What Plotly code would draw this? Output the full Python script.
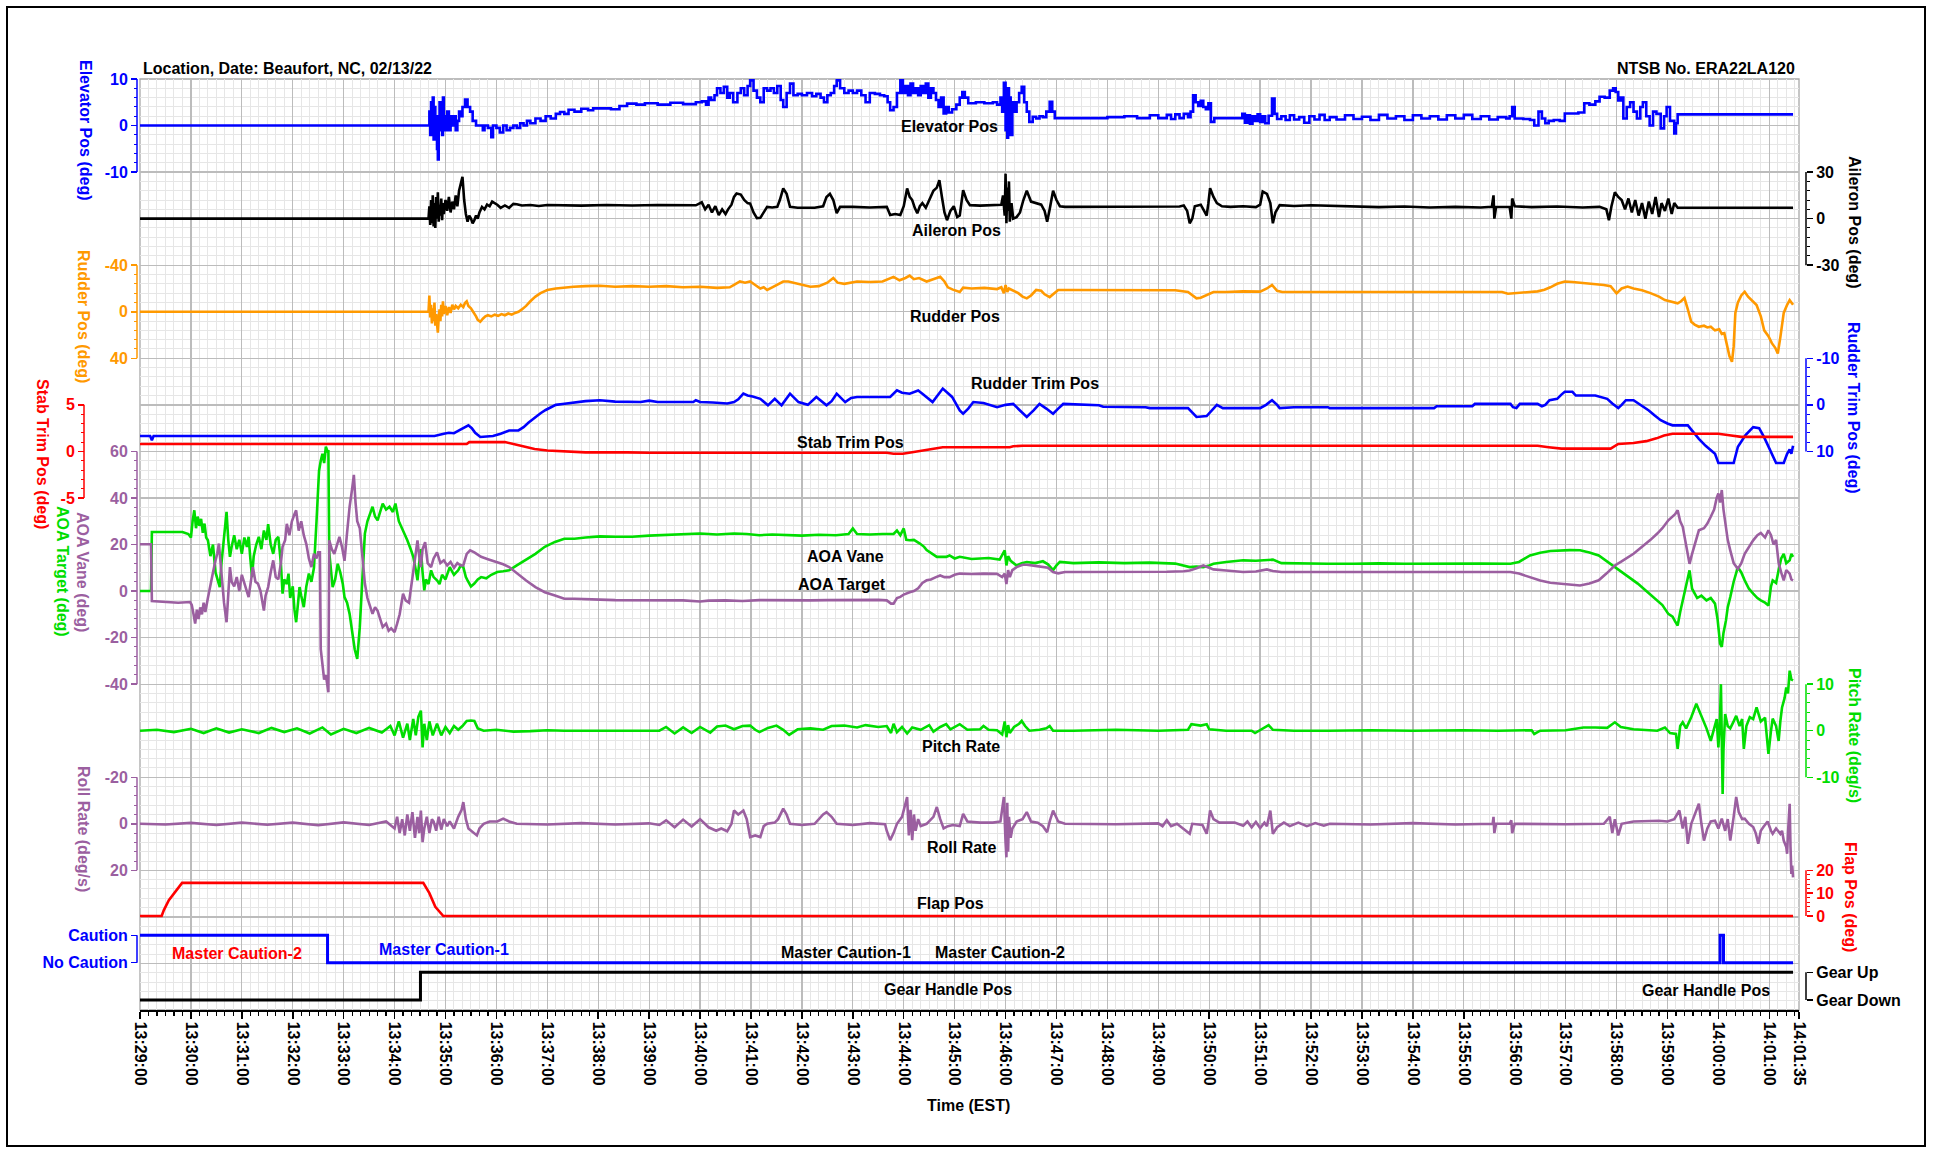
import plotly.graph_objects as go

# ---------------- DATA (time = seconds after 13:29:00) ----------------
TICK_LABELS = ["13:29:00", "13:30:00", "13:31:00", "13:32:00", "13:33:00", "13:34:00", "13:35:00",
               "13:36:00", "13:37:00", "13:38:00", "13:39:00", "13:40:00", "13:41:00", "13:42:00",
               "13:43:00", "13:44:00", "13:45:00", "13:46:00", "13:47:00", "13:48:00", "13:49:00",
               "13:50:00", "13:51:00", "13:52:00", "13:53:00", "13:54:00", "13:55:00", "13:56:00",
               "13:57:00", "13:58:00", "13:59:00", "14:00:00", "14:01:00", "14:01:35"]

ELEVATOR = [(0,0),(340,0),(341,3),(342,-2),(343,5),(344,-1),(345,6),(346,-3),(347,4),(348,-2),(349,2),(350,-5),(351,-7.3),(352,1),(353,5),(354,-1),(355,3),(356,-2),(357,6),(358,0),(359,2),(360,-1),(362,3),(364,-1),(366,2),(368,0),(370,2),(372,-1),(374,1),(376,3),(378,2),(380,4),(383,5.6),(386,4),(389,3),(392,1),(396,0),(400,0),(404,-1),(406,0),(410,-0.5),(414,-2.5),(416,0),(420,-0.5),(424,-1.5),(428,0),(432,-1),(436,-0.5),(440,0),(444,-0.5),(448,0.5),(452,0),(456,1),(460,0.5),(466,1.5),(472,1),(478,2),(484,1.5),(490,2.5),(495,2.9),(500,2.5),(505,3.4),(512,3),(520,3.6),(528,3.3),(534,3.7),(545,3.7),(555,3.5),(565,4.2),(574,4.7),(585,4.5),(595,4.8),(610,4.5),(625,4.9),(640,4.6),(655,5),(662,5.2),(667,4.5),(670,6),(673,5.5),(677,6.5),(680,8),(684,7),(688,8.3),(692,6),(695,7),(699,5),(704,7),(708,8),(712,6.5),(716,8.5),(719,9.7),(723,7.5),(727,6),(731,5),(735,8),(739,7.5),(743,8),(747,7),(751,8.5),(755,5.5),(758,4),(762,7),(766,9),(770,6.5),(775,6.8),(780,6.5),(786,7),(792,6.3),(797,6.8),(802,6),(806,5),(810,6.5),(814,7),(818,8.5),(821,9.7),(825,8),(830,7),(835,7.5),(840,7),(845,7.5),(850,6.5),(855,5),(860,7),(866,6.8),(872,6.5),(877,6.3),(881,5),(884,3.3),(888,4),(892,7),(896,9.7),(899,7),(902,8.5),(905,6.5),(908,9),(911,7),(914,8),(917,6.5),(920,8.5),(923,7),(926,9),(929,6),(932,8),(935,7),(938,5.5),(941,4),(944,6),(947,2.6),(950,4),(953,2.8),(957,3.5),(962,4.5),(966,6),(969,7.2),(972,6),(976,4.8),(985,5),(995,4.8),(1005,5),(1010,4.5),(1014,6),(1016,3),(1018,9.2),(1020,-1),(1021,7),(1022,-2.6),(1023,8),(1024,1),(1025,6),(1026,-2),(1028,5),(1030,3),(1033,5),(1036,7),(1039,8.3),(1042,5),(1045,3),(1048,0.8),(1052,1.9),(1056,1.5),(1060,2),(1064,1.8),(1068,3),(1072,5.1),(1075,3),(1078,1.6),(1100,1.6),(1120,1.6),(1140,1.8),(1160,2),(1175,1.6),(1190,2.2),(1200,1.6),(1210,2.3),(1215,1.4),(1220,2.4),(1225,1.6),(1230,2.5),(1235,1.8),(1238,3),(1241,6.5),(1244,5),(1247,4.2),(1250,5.3),(1253,4),(1256,3.5),(1259,4.8),(1262,0.8),(1266,1.6),(1280,1.6),(1296,1.6),(1299,2.5),(1302,0.6),(1305,2.2),(1308,0.4),(1311,2),(1314,1),(1317,2.4),(1320,0.8),(1323,2),(1326,0.5),(1330,2.1),(1334,5.8),(1337,2.5),(1340,1.4),(1345,2),(1350,1.2),(1355,2.2),(1360,1.3),(1366,1.8),(1372,0.6),(1378,2),(1384,1.3),(1390,2.3),(1396,1.2),(1402,1.8),(1410,1.3),(1420,2.2),(1430,1.4),(1440,1.9),(1450,1.2),(1460,2.3),(1470,1.5),(1480,2),(1490,1.2),(1500,2.2),(1510,1.5),(1520,2),(1530,1.3),(1540,2.2),(1550,1.5),(1560,2.3),(1570,1.4),(1580,2),(1590,1.3),(1600,1.8),(1610,1.5),(1614,2),(1617,4),(1620,1.5),(1630,1.4),(1638,1.2),(1643,0),(1648,3),(1652,1.5),(1656,0.5),(1660,1),(1666,1.2),(1673,1),(1679,2.6),(1688,2.6),(1695,2.8),(1702,4.8),(1708,4.5),(1715,5.2),(1720,6.2),(1726,6),(1732,7.5),(1736,8),(1739,7.2),(1742,5.4),(1745,6),(1748,1.5),(1752,4),(1756,5),(1760,3),(1764,1.5),(1768,4),(1771,5),(1775,2),(1779,0),(1783,3),(1787,2.5),(1792,-0.6),(1796,2),(1799,4),(1803,1),(1808,-1.7),(1810,0.5),(1812,2.4),(1948,2.4)]

AILERON = [(0,0),(340,0),(341,8),(342,-4),(343,12),(344,-3),(345,15),(346,-5),(347,10),(348,-6),(349,14),(350,0),(351,17),(352,-2),(353,9),(354,2),(355,13),(356,-1),(357,10),(358,3),(360,12),(362,5),(364,14),(366,4),(368,11),(370,6),(372,15),(374,8),(376,18),(378,22),(380,27),(382,12),(384,3),(386,-2),(388,2),(390,0),(392,-3),(394,-1),(396,2),(398,0),(400,4),(403,7.6),(406,6),(409,9),(412,8),(415,11),(418,10),(421,9),(425,7),(430,8.5),(435,7),(440,9.5),(444,9.3),(450,8.5),(460,8.8),(470,8.2),(480,8.8),(495,8.6),(520,8.4),(550,8.8),(580,8.5),(610,8.8),(640,8.4),(655,8.6),(662,10.5),(666,6),(670,9),(674,4),(678,8),(682,2.3),(686,6),(690,3),(693,6),(697,9),(700,14),(703,16.2),(708,15.5),(712,12),(716,10),(719,9.7),(723,4),(727,0.3),(731,0.5),(735,4),(739,7.6),(745,7.2),(751,7.6),(754,12),(758,19.5),(762,16),(766,7.6),(775,7),(785,7.2),(795,7),(805,8),(809,14),(813,16),(817,12),(821,3.5),(825,7.6),(840,7.6),(860,7.2),(880,7.6),(884,2.3),(890,3),(896,2.3),(900,8),(904,19.5),(907,14),(910,12),(913,7),(916,3.5),(919,8),(922,10),(926,7),(930,12),(935,18),(939,20),(942,24.8),(945,14),(948,4),(951,-1),(955,5),(959,8),(963,1),(966,2),(970,18.4),(974,12),(978,8.7),(990,8.4),(1005,8.7),(1015,9),(1017,15),(1019,2),(1020,29),(1021,-3),(1022,20),(1023,5),(1024,24),(1025,-2),(1027,10),(1029,0),(1033,1),(1037,4),(1041,12),(1045,18),(1050,11),(1056,10),(1062,9),(1066,5),(1069,-2),(1072,6),(1076,18),(1080,12),(1084,8),(1090,7.6),(1120,7.6),(1150,7.8),(1180,7.4),(1210,7.6),(1225,7.8),(1230,8.5),(1234,5),(1237,-3),(1240,0),(1243,8),(1250,9),(1254,5),(1257,2),(1259,10),(1261,19.6),(1265,14),(1269,10),(1275,8),(1285,7.6),(1300,8),(1315,7.4),(1320,9),(1323,17.5),(1328,16),(1332,10),(1335,-3),(1338,4),(1343,8.7),(1360,8.2),(1380,8.6),(1400,8.3),(1430,7.8),(1460,7.4),(1490,7.8),(1520,7.2),(1550,7.6),(1580,7.2),(1593,7.6),(1595,15),(1596,0),(1598,7.5),(1614,7.6),(1616,0),(1617,13),(1620,8),(1640,7.4),(1670,7.8),(1700,7.2),(1720,7.6),(1728,6),(1731,-1),(1734,8),(1738,17),(1742,14),(1746,12),(1750,6),(1754,13),(1758,4),(1762,12),(1766,2),(1770,10),(1774,0),(1778,11),(1782,3),(1786,14),(1790,1),(1793,10),(1797,5),(1801,13),(1805,3),(1808,10),(1812,7),(1948,7)]

RUDDER = [(0,0),(340,0),(341,-14),(342,5),(343,-6),(344,10),(345,-3),(346,8),(347,-8),(348,12),(349,2),(350,15),(351,18),(352,5),(353,-2),(354,8),(355,-6),(356,4),(357,-9),(358,2),(360,-5),(362,3),(364,-4),(366,1),(368,-6),(370,-2),(372,-5),(375,-3),(378,-6),(381,-4),(383,-7.5),(385,-9),(387,-5),(390,-3),(393,0),(396,4),(398,7),(401,8.6),(404,6),(407,4),(410,3),(414,4),(418,2.5),(422,3.5),(426,2),(430,3),(434,1.5),(438,2.5),(442,1),(446,0),(450,-2),(455,-5),(460,-9),(466,-13),(472,-16),(480,-18.7),(490,-20),(500,-21),(511,-21.5),(525,-22),(542,-22.4),(560,-21.5),(580,-22),(600,-21.5),(620,-22),(640,-21),(660,-21.5),(680,-20.5),(695,-21),(700,-23),(707,-26),(713,-25),(719,-26),(725,-23),(731,-20),(735,-21),(739,-18.7),(745,-21),(752,-24),(758,-26),(764,-26),(770,-25),(780,-23),(790,-21.5),(800,-22),(810,-25),(817,-29),(822,-25),(830,-24),(845,-26),(860,-25.5),(875,-26),(888,-30),(895,-27),(902,-29),(907,-31),(912,-28),(918,-29),(927,-26),(935,-28),(943,-30),(948,-26),(952,-21),(958,-19),(962,-18),(966,-17),(970,-20.7),(980,-20),(995,-20.5),(1010,-19.5),(1015,-21),(1018,-16),(1020,-23),(1022,-17),(1024,-20),(1028,-18.5),(1035,-16),(1040,-13),(1045,-11.5),(1050,-14),(1056,-18.7),(1062,-18),(1066,-15),(1072,-12.6),(1076,-15),(1082,-18.7),(1100,-18.7),(1130,-18.5),(1160,-18.7),(1190,-18.2),(1220,-18.5),(1235,-17),(1240,-14),(1245,-11.5),(1250,-12),(1256,-14),(1262,-16),(1265,-17),(1280,-17),(1300,-17.5),(1320,-17.3),(1328,-20),(1334,-23),(1340,-18),(1346,-17),(1370,-17),(1400,-17.2),(1430,-17),(1460,-17.3),(1490,-17),(1520,-17.2),(1550,-17),(1580,-17.2),(1605,-17),(1612,-15.5),(1620,-16),(1630,-17),(1647,-17.5),(1655,-19),(1662,-21),(1670,-24),(1679,-26),(1688,-25.5),(1697,-25),(1705,-24),(1715,-23.5),(1725,-23),(1733,-22),(1738,-18),(1740,-15.8),(1746,-20),(1753,-21.6),(1760,-20),(1770,-18.5),(1780,-16),(1790,-13),(1797,-10),(1804,-9),(1809,-8),(1812,-7.2),(1816,-9),(1820,-11.8),(1824,-2),(1828,8.6),(1832,11),(1837,12.9),(1843,12),(1847,13.5),(1851,12.9),(1856,16),(1861,15),(1864,19),(1867,18.4),(1870,28),(1873,38),(1876,43),(1878,30),(1880,1),(1883,-8),(1887,-14),(1891,-17.2),(1895,-13),(1900,-9),(1905,-5.8),(1910,4),(1914,16),(1919,21),(1923,27),(1927,31),(1930,35.9),(1933,22),(1937,1),(1941,-6),(1944,-10),(1946,-8),(1948,-6)]

RUDDER_TRIM = [(0,6.7),(12,6.7),(14,7.6),(16,6.7),(347,6.7),(352,6.4),(358,6.2),(364,6),(370,6.1),(376,5.5),(382,4.8),(387,4.4),(391,5),(395,6),(401,6.9),(408,6.8),(416,6.7),(425,6.2),(435,5.5),(446,5.5),(452,4.8),(458,3.8),(466,2.6),(472,1.8),(478,1.1),(484,0.5),(490,0),(498,-0.2),(510,-0.5),(525,-0.8),(542,-1),(560,-0.7),(590,-0.6),(600,-0.9),(610,-0.6),(640,-0.6),(652,-0.6),(655,-1),(660,-0.6),(675,-0.5),(685,-0.4),(692,-0.3),(700,-0.6),(705,-1.2),(711,-2.4),(716,-2),(722,-1.8),(731,-1.3),(740,0.1),(748,-1.3),(756,0.1),(766,-2.4),(776,-0.6),(787,0),(797,-1.7),(809,0.1),(815,-0.8),(821,-2.4),(831,-0.6),(838,-1.5),(845,-1.7),(884,-1.7),(892,-3.1),(898,-2.6),(907,-2.4),(917,-3.1),(922,-2.4),(934,-0.6),(946,-3.5),(957,-1.7),(966,1.2),(970,1.9),(976,0.8),(982,-0.6),(994,-0.4),(1010,0.5),(1020,0),(1029,-0.2),(1037,1.2),(1045,2.6),(1053,1.2),(1060,-0.2),(1068,0.8),(1076,1.9),(1082,0.8),(1088,-0.2),(1130,0.1),(1135,0.4),(1185,0.5),(1190,0.7),(1235,0.7),(1240,1.6),(1245,2.6),(1257,2.4),(1263,1.2),(1269,0),(1276,0.7),(1320,0.7),(1327,0),(1334,-1),(1340,0),(1343,0.7),(1360,0.5),(1400,0.5),(1402,0.7),(1525,0.7),(1528,0.3),(1570,0.3),(1573,-0.2),(1615,-0.2),(1618,0.5),(1622,0.7),(1626,-0.2),(1647,-0.2),(1652,0.3),(1656,0),(1661,-1),(1670,-1.3),(1675,-2.2),(1679,-2.8),(1688,-2.8),(1692,-2),(1715,-2),(1722,-1.6),(1729,-1.3),(1735,-0.3),(1742,0.7),(1746,0),(1751,-1),(1760,-1),(1768,0),(1778,1.2),(1785,2.3),(1792,3.3),(1800,4),(1806,4.4),(1824,4.4),(1830,5.8),(1837,7.3),(1845,8.8),(1856,10.5),(1860,12.5),(1878,12.5),(1883,9),(1892,6.5),(1901,4.8),(1908,5),(1914,7),(1919,9),(1928,12.5),(1937,12.5),(1941,10.5),(1944,9.6),(1946,10.5),(1948,8.8)]

STAB_TRIM = [(0,0.8),(385,0.8),(388,1.0),(430,1.0),(440,0.8),(450,0.6),(457,0.4),(465,0.25),(480,0.1),(500,0),(525,-0.1),(574,-0.1),(600,-0.15),(700,-0.15),(800,-0.15),(880,-0.15),(888,-0.25),(899,-0.25),(910,-0.1),(923,0.1),(935,0.3),(946,0.45),(1025,0.45),(1029,0.55),(1040,0.6),(1647,0.6),(1660,0.45),(1675,0.3),(1733,0.3),(1742,0.8),(1760,0.9),(1775,1.1),(1787,1.4),(1796,1.7),(1806,1.9),(1860,1.9),(1875,1.7),(1887,1.56),(1948,1.56)]

AOA_GREEN = [(0,0),(13,0),(14,25.4),(30,25.3),(50,25.4),(57,24.5),(60,23),(62,30),(64,34.7),(66,27),(68,32),(70,28),(72,31),(74,25),(76,29),(78,23),(80,21.8),(83,15),(86,20),(89,8),(92,4.6),(94,1.7),(96,12),(98,20.4),(100,26),(102,34),(104,22),(106,14.7),(108,19),(111,24),(114,18),(117,22),(120,16),(123,23),(126,19),(128,23.3),(130,14),(132,6),(134,15),(137,20),(140,23.3),(143,18),(146,26),(149,22),(151,28.7),(154,20),(157,16),(160,22),(163,23.3),(166,12),(168,-1.1),(170,5),(173,3),(175,7.5),(177,-3),(180,2),(182,-8),(184,-13.4),(186,-6),(188,1.7),(190,-2),(193,-6.9),(196,2),(199,7.5),(202,4),(205,10),(208,30),(211,51.7),(213,56),(215,59),(217,55),(219,62),(221,60),(222,60),(223,16.6),(225,10),(227,1.7),(230,5),(233,11.7),(236,8),(239,3),(241,-2.6),(244,-5),(247,-9.8),(249,-15),(251,-21.3),(253,-25),(256,-29.2),(259,-15.5),(262,5),(265,24.7),(268,30),(271,33),(274,36.2),(277,32),(280,30.4),(283,34),(286,37.6),(290,35),(294,36.2),(298,34),(301,37.6),(305,30),(308,27.6),(312,24),(315,21.8),(319,18),(322,14.7),(325,9),(327,4.6),(329,12),(331,18),(333,8),(335,0.3),(337,5),(340,3),(343,8.9),(346,6),(350,4.6),(353,3),(356,7),(360,5),(365,10.3),(370,7),(375,8.9),(378,11),(381,10.3),(384,6),(386,4.6),(390,2),(394,3.2),(398,5),(402,6),(408,5.5),(414,7),(421,8.2),(428,8.5),(435,8.9),(444,11),(455,13.5),(466,16),(477,19),(489,21.1),(500,22.5),(512,22.5),(525,23),(542,23.5),(560,23.3),(580,23.3),(600,23.8),(620,24),(640,24.5),(660,24.7),(680,24.3),(700,24.7),(715,24.5),(730,24),(745,24.3),(760,24),(780,23.8),(800,24.2),(820,24),(835,24.5),(840,26.9),(845,24.5),(860,24.3),(875,24.5),(888,24.5),(892,26),(896,24),(900,26.9),(903,22),(907,21.8),(912,22),(919,20.4),(924,19),(927,17.6),(933,16),(939,14.7),(950,14.7),(954,15.3),(960,14),(966,14.7),(980,13.8),(1000,14.2),(1013,13.5),(1017,16),(1019,17.5),(1021,11),(1023,15),(1026,13),(1033,11),(1039,12),(1045,12.5),(1055,12),(1064,12.8),(1070,11.5),(1076,9),(1080,11),(1084,12.5),(1100,12),(1130,12.3),(1160,12),(1190,12.2),(1220,11.8),(1237,10.3),(1245,10.5),(1253,10.3),(1260,11),(1265,11.7),(1280,12.5),(1300,13.2),(1315,13),(1328,13.2),(1335,13.5),(1345,12),(1370,11.8),(1400,11.7),(1430,11.7),(1460,11.9),(1490,11.7),(1520,11.8),(1550,11.7),(1580,11.8),(1615,11.7),(1625,12.5),(1638,15.3),(1650,16.5),(1662,17.2),(1674,17.5),(1685,17.6),(1697,17.5),(1708,16.6),(1719,15.3),(1728,13),(1738,10.3),(1745,8.5),(1752,6.5),(1760,4.5),(1765,3.2),(1772,1),(1780,-1.5),(1788,-4),(1794,-6),(1801,-9.8),(1806,-11),(1809,-13),(1812,-14.8),(1815,-9),(1818,-4),(1822,2),(1826,8.9),(1829,1),(1832,-1),(1835,-3),(1840,-2),(1846,-4),(1851,-3),(1856,-5.4),(1859,-12),(1862,-22.6),(1864,-24),(1866,-18),(1869,-12.5),(1871,-7),(1874,-2.6),(1878,4),(1883,10.3),(1887,8),(1891,4.6),(1896,1),(1901,-1.1),(1906,-3),(1910,-4),(1915,-5),(1919,-6.2),(1922,2),(1924,4.6),(1928,3.5),(1931,9),(1934,14),(1937,16),(1940,12),(1944,13.2),(1946,16),(1948,14.7)]

AOA_PURPLE = [(0,20.1),(13,20.1),(14,-4.3),(30,-4.6),(45,-5),(59,-4.7),(61,-6),(63,-9.8),(65,-14),(67,-8),(69,-12),(71,-7),(73,-10),(75,-5),(77,-9),(80,-3),(83,3.2),(86,8),(89,13.2),(91,16),(93,20.4),(95,12),(97,3.2),(99,-5),(102,-13.4),(104,-2),(106,10.3),(108,4),(111,2),(114,6),(117,0),(120,7),(123,3),(126,-1),(128,-2.6),(131,5),(133,10.3),(136,4),(139,3.2),(142,0),(144,-4),(146,-8.4),(148,-2),(151,1.7),(154,8),(157,13.2),(160,6),(163,5),(166,12),(168,19),(171,21.8),(173,28.9),(176,24),(179,30),(182,33),(184,34.7),(187,26),(190,30),(193,24),(196,20.2),(199,14),(202,10.3),(205,16),(208,14),(210,16.6),(212,16.6),(213,-25),(215,-32),(217,-38),(219,-36),(221,-40),(222,-43.5),(223,21.8),(226,18),(229,16),(232,20),(235,23.3),(238,19),(241,13),(244,25),(247,36.2),(250,44),(252,49.9),(254,38),(256,30),(259,27),(262,14),(265,3.2),(268,-3),(271,-6),(274,-9.8),(277,-7),(280,-8.5),(283,-12),(286,-15.5),(290,-14),(293,-17),(296,-16),(300,-17.6),(303,-14),(306,-10),(310,-1.1),(313,-4),(317,-5),(320,3),(322,7.5),(325,15),(327,21.8),(329,15),(331,10.3),(333,18),(336,21),(339,12),(343,10.3),(346,14),(350,16.6),(354,12),(358,13.2),(362,11),(366,12.5),(370,10),(374,12),(378,11),(381,11),(385,16),(389,17.5),(394,16.6),(398,15.5),(402,14.7),(410,13.7),(421,12.5),(428,11.5),(435,10.3),(444,7.5),(455,4.5),(466,1.7),(477,-0.5),(489,-1.9),(500,-3.3),(512,-3.3),(525,-3.6),(542,-3.7),(560,-3.9),(580,-4),(600,-4),(620,-4.2),(640,-4),(660,-4.5),(670,-4.1),(690,-4),(710,-4.3),(730,-3.9),(750,-4),(770,-4.2),(790,-4),(810,-3.9),(830,-3.8),(850,-3.8),(870,-3.8),(880,-4),(885,-5.4),(888,-5.4),(892,-3),(896,-2.5),(900,-1.5),(907,-0.5),(912,0),(917,1.2),(922,3.5),(927,4.6),(932,5),(938,6),(943,6.7),(948,6),(954,6),(960,7),(966,7.5),(980,7.3),(994,7.5),(1010,7.4),(1016,6),(1019,7.5),(1021,3),(1023,9),(1025,6),(1028,9),(1033,10.3),(1040,11.3),(1045,11.3),(1055,10.8),(1064,10.5),(1070,10),(1076,8.2),(1082,7.6),(1090,8.2),(1120,8.2),(1150,8.3),(1180,8.1),(1210,8.3),(1230,8.5),(1237,8.8),(1245,9.8),(1253,11),(1260,10),(1265,9.3),(1280,8.8),(1300,8.2),(1315,8.4),(1328,9.3),(1335,8.6),(1345,8.2),(1370,8.2),(1400,8.2),(1430,8.1),(1460,8.3),(1490,8.1),(1520,8.2),(1550,8.2),(1580,8.1),(1615,8.2),(1625,7.5),(1638,6),(1650,4.5),(1662,3.6),(1674,3.2),(1685,2.6),(1697,2.4),(1708,3.2),(1719,4.6),(1728,7.5),(1738,11),(1745,12.5),(1752,14),(1760,16),(1765,17.5),(1772,19.5),(1780,22),(1788,24.7),(1794,27),(1801,30.4),(1806,32),(1809,33),(1812,34.7),(1815,30),(1818,27.6),(1822,20),(1826,11.7),(1829,16),(1832,20),(1837,26.1),(1843,27),(1847,29),(1851,31.9),(1855,35),(1858,40),(1860,41.9),(1862,38),(1864,43.4),(1866,35),(1869,26),(1871,22),(1874,17.5),(1878,12),(1883,9.5),(1887,12),(1891,16),(1896,19),(1901,21.8),(1906,24),(1910,25),(1915,23),(1919,26.1),(1922,24),(1925,20),(1928,22),(1931,12),(1934,8),(1937,4.6),(1940,9),(1944,7.5),(1946,5),(1948,4.6)]

PITCH_RATE = [(0,0),(20,0.2),(40,-0.3),(60,0.4),(75,-0.5),(90,0.5),(105,-0.4),(120,0.3),(140,-0.5),(155,0.6),(170,-0.3),(185,0.5),(200,-0.6),(215,0.7),(225,-0.8),(240,0.4),(255,-0.5),(270,0.6),(285,-0.4),(295,1),(300,-1),(305,2),(310,-1.5),(315,1.5),(318,-2),(322,2.5),(325,-1),(328,3),(331,4.3),(333,-3.6),(335,1.5),(338,-2),(341,2),(345,-1),(350,1.5),(355,-1),(360,0.8),(365,-0.5),(370,1),(375,0.2),(380,1),(385,2.1),(390,2.2),(394,2.1),(398,0.5),(405,0),(420,0.2),(440,-0.2),(460,-0.1),(480,0.1),(500,0),(540,0),(580,0.1),(612,0),(620,0.8),(630,-0.6),(640,0.7),(650,-0.5),(660,0.8),(672,-0.4),(680,0.9),(690,1.1),(700,0.3),(710,1),(719,1.1),(725,0.2),(730,-0.3),(740,0.6),(750,1.1),(758,0.2),(765,-0.9),(775,0.3),(790,0.5),(805,0.2),(815,1),(830,1.1),(845,0.7),(855,1.2),(870,0.8),(880,1),(885,-0.5),(888,1.5),(892,-0.3),(898,0.8),(904,-0.6),(910,0.7),(920,0.2),(930,1.2),(935,-0.2),(943,0.8),(950,1.4),(955,0.3),(966,1.4),(975,0.2),(990,0.3),(994,1),(1000,0.2),(1010,0.1),(1016,-0.8),(1019,2),(1021,-1.4),(1023,1.2),(1025,-0.5),(1030,0.8),(1036,1.5),(1039,2.1),(1043,1),(1048,0),(1060,0.2),(1068,0.5),(1072,1),(1076,0),(1100,0),(1150,0.2),(1200,0),(1235,0.2),(1239,1.4),(1245,1.2),(1250,1.1),(1257,1.4),(1260,0.3),(1280,0),(1310,0),(1314,-0.5),(1320,0.2),(1330,1.2),(1335,0.2),(1360,0),(1400,0),(1450,0.1),(1500,0),(1560,0.1),(1600,0),(1640,0.1),(1643,-0.7),(1650,0),(1680,0.1),(1701,0.7),(1715,0.7),(1729,0.6),(1738,1.8),(1745,0.8),(1760,0.3),(1780,0.2),(1788,0),(1797,0.7),(1803,-0.5),(1810,-0.7),(1812,-3.9),(1815,1),(1818,1.8),(1822,0.5),(1828,2.9),(1834,5.8),(1837,4.5),(1841,2.9),(1846,0.5),(1851,-2.2),(1856,1.5),(1858,2.5),(1860,-3.6),(1862,3),(1863,10),(1864,-6),(1865,-13.6),(1866,-4),(1868,3.6),(1871,1),(1874,0.5),(1878,2),(1881,3.2),(1885,1),(1888,2.5),(1890,-3.9),(1893,1),(1897,2.9),(1901,2.5),(1905,5),(1910,2),(1915,2.8),(1919,-5),(1922,0),(1924,2.6),(1928,1),(1931,-2.2),(1933,2),(1935,5),(1938,7),(1940,9.3),(1942,8),(1944,12.9),(1946,11),(1948,10.8)]

ROLL_RATE = [(0,0),(30,0.3),(60,-0.4),(90,0.5),(120,-0.5),(150,0.4),(180,-0.5),(210,0.6),(240,-0.6),(270,0.5),(290,-1),(300,2),(303,-3),(306,4),(309,-2),(312,5),(315,-4),(318,3),(321,-5),(324,6),(327,-3),(329,4),(331,-5.7),(333,7.9),(335,2),(338,-3),(341,4),(344,-2),(346,-1),(349,3),(352,-3),(355,2.5),(358,-2),(362,1),(365,-1),(370,2),(375,-3),(379,-6),(381,-9.3),(384,-2),(387,2),(390,3),(394,4),(397,5),(400,2),(405,0),(412,-1),(421,-1),(428,-2.2),(435,-1),(444,0),(480,0.3),(520,-0.3),(560,0.3),(600,-0.2),(612,0.5),(620,-1.5),(630,1.5),(640,-1.8),(650,1.2),(660,-2),(670,1.5),(679,3),(685,2),(692,3.2),(697,0),(700,-5.7),(705,-4),(711,-5.7),(715,-2),(719,5.7),(725,5),(731,5.7),(735,1),(739,0),(748,-0.5),(752,-2),(758,-6.5),(762,-4),(766,0),(780,0.5),(795,0),(805,-4),(809,-5),(815,-3),(821,0),(840,0.5),(860,-0.3),(878,0.2),(880,3),(884,7),(888,4),(892,0),(898,-3),(904,-11.5),(906,5),(908,-6),(910,7),(912,-4),(914,3),(917,-2),(920,1),(927,0),(935,-3),(939,-7.2),(943,-2),(947,2),(952,1),(958,0.5),(966,1),(970,-4.3),(975,-1),(990,-0.5),(1005,-0.5),(1014,-1),(1018,-11.5),(1020,8),(1021,14.4),(1022,-9),(1023,12),(1024,-3),(1026,6),(1028,2),(1033,-1),(1040,-2),(1045,-5),(1050,-1),(1058,-0.5),(1064,1),(1069,3.6),(1072,-1),(1076,-5.7),(1082,-1),(1090,0),(1150,0.2),(1200,-0.2),(1205,1),(1210,-1.5),(1215,1),(1222,0),(1237,4.3),(1240,0),(1252,0.5),(1257,4.3),(1259,0),(1261,-5.7),(1265,-2),(1272,-0.5),(1290,-0.5),(1300,0.8),(1305,-1),(1310,1.5),(1315,-0.8),(1320,1.8),(1325,-0.5),(1328,1),(1332,-5.7),(1335,4.3),(1340,1.5),(1348,-0.5),(1355,1),(1365,-0.5),(1375,1),(1385,-0.3),(1395,0.8),(1402,0),(1450,0.3),(1500,-0.3),(1550,0.3),(1594,0),(1595,-3),(1596,4),(1598,0),(1614,0),(1616,-1.5),(1617,4),(1620,0),(1680,0.2),(1725,0),(1732,-3),(1735,4),(1738,-2),(1742,5),(1746,0),(1760,-1),(1790,-1.3),(1800,-1),(1808,-2),(1814,-5.7),(1818,2),(1821,-3),(1824,8.6),(1828,0),(1832,-4),(1837,-8.6),(1840,0),(1843,7.2),(1847,2),(1851,-1),(1856,-1.3),(1860,2),(1864,-2.2),(1868,3),(1871,-2),(1874,7.2),(1878,-3),(1881,-11.5),(1884,-5),(1888,-2),(1891,-2.2),(1896,0),(1901,1.4),(1904,4),(1907,8.6),(1910,3),(1913,1.4),(1918,-1),(1922,3),(1924,4.3),(1928,2),(1933,4.3),(1935,3),(1937,7.2),(1940,10),(1941,12.9),(1942,4),(1944,-8.6),(1945,10),(1946,21.5),(1947,18),(1948,23)]

FLAP = [(0,0),(25.5,0),(28,2.5),(34,6.9),(49.6,14.5),(333.8,14.5),(341,10),(348,4),(357.4,0),(1948,0)]
MASTER_CAUTION = [(0,1),(221,0),(1862,1),(1866,0),(1948,0)]   # 1 = Caution, 0 = No Caution
GEAR_HANDLE = [(0,0),(330.5,1),(1948,1)]                      # 1 = Gear Up, 0 = Gear Down

# ---------------- LAYOUT GEOMETRY ----------------
W, H = 1933, 1155
PAPER_L, PAPER_R = 80, 1806
PLOT_L, PLOT_R = 140, 1799
PLOT_T, PLOT_B = 79, 1010
GRID_N = 20
GRID_STEP = (PLOT_B - PLOT_T) / GRID_N

FONT = "Arial, Liberation Sans, sans-serif"
BLUE, BLACK, ORANGE, RED = "#0000ff", "#000000", "#ff9900", "#ff0000"
PURPLE, GREEN = "#9b5fa0", "#00dd00"
MAJ, MIN = "#bcbcbc", "#e6e6e6"


def px_x(x):
    return (x - PAPER_L) / (PAPER_R - PAPER_L)


def px_y(y):
    return (PLOT_B - y) / (PLOT_B - PLOT_T)


def grid_of_px(y):
    return (PLOT_B - y) / GRID_STEP


def axis_range(v1, g1, v2, g2):
    b = (g2 - g1) / (v2 - v1)
    return [v1 + (0 - g1) / b, v1 + (GRID_N - g1) / b]


def tsec(label):
    h, m, s = (int(p) for p in label.split(":"))
    return h * 3600 + m * 60 + s - (13 * 3600 + 29 * 60)


TICK_SECONDS = [tsec(l) for l in TICK_LABELS]
T_END = TICK_SECONDS[-1]

fig = go.Figure()

AXES = {
    "y2": dict(r=(10, 20, -10, 18), tv=[-10, 0, 10], mstep=2, color=BLUE, side="left", xp=137),
    "y3": dict(r=(30, 18, -30, 16), tv=[-30, 0, 30], mstep=6, color=BLACK, side="right", xp=PAPER_R),
    "y4": dict(r=(-40, 16, 40, 14), tv=[-40, 0, 40], mstep=8, color=ORANGE, side="left", xp=137),
    "y5": dict(r=(-10, 14, 10, 12), tv=[-10, 0, 10], mstep=2, color=BLUE, side="right", xp=PAPER_R),
    "y6": dict(r=(5, 13, -5, 11), tv=[-5, 0, 5], mstep=1, color=RED, side="left", xp=84),
    "y7": dict(r=(60, 12, -40, 7), tv=[-40, -20, 0, 20, 40, 60], mstep=4, color=PURPLE, side="left", xp=137),
    "y8": dict(r=(10, 7, -10, 5), tv=[-10, 0, 10], mstep=2, color=GREEN, side="right", xp=PAPER_R),
    "y9": dict(r=(-20, 5, 20, 3), tv=[-20, 0, 20], mstep=4, color=PURPLE, side="left", xp=137),
    "y10": dict(r=(20, 3, 0, grid_of_px(916)), tv=[0, 10, 20], mstep=2, color=RED, side="right", xp=PAPER_R),
    "y11": dict(r=(1, grid_of_px(935.3), 0, grid_of_px(962.7)), tv=[0, 1], tt=["No Caution", "Caution"],
                mstep=None, color=BLUE, side="left", xp=137),
    "y12": dict(r=(1, grid_of_px(972.3), 0, grid_of_px(1000)), tv=[0, 1], tt=["Gear Down", "Gear Up"],
                mstep=None, color=BLACK, side="right", xp=PAPER_R),
}


def add_series(data, axis, color, width=2.6, shape="linear"):
    xs = [p[0] for p in data]
    ys = [p[1] for p in data]
    fig.add_trace(go.Scatter(x=xs, y=ys, mode="lines", xaxis="x", yaxis=axis,
                             line=dict(color=color, width=width, shape=shape),
                             hoverinfo="skip", showlegend=False))


# invisible anchor trace so the base (grid) subplot exists and carries the overlays
fig.add_trace(go.Scatter(x=[0], y=[0], mode="markers", marker=dict(opacity=0, size=1),
                         xaxis="x", yaxis="y", hoverinfo="skip", showlegend=False))

add_series(FLAP, "y10", RED)
add_series(MASTER_CAUTION, "y11", BLUE, 3, "hv")
add_series(GEAR_HANDLE, "y12", BLACK, 3, "hv")
add_series(PITCH_RATE, "y8", GREEN)
add_series(ROLL_RATE, "y9", PURPLE)
add_series(AOA_GREEN, "y7", GREEN)
add_series(AOA_PURPLE, "y7", PURPLE)
add_series(STAB_TRIM, "y6", RED)
add_series(RUDDER_TRIM, "y5", BLUE)
add_series(RUDDER, "y4", ORANGE)
add_series(AILERON, "y3", BLACK)
add_series(ELEVATOR, "y2", BLUE, 2.6, "hv")

tickfont_base = dict(family=FONT, size=16, weight="bold")

layout = dict(
    width=W, height=H, template="none",
    paper_bgcolor="white", plot_bgcolor="white",
    margin=dict(l=PAPER_L, r=W - PAPER_R, t=PLOT_T, b=H - PLOT_B, pad=0),
    showlegend=False,
    xaxis=dict(domain=[px_x(PLOT_L), px_x(PLOT_R)], range=[0, T_END],
               tickmode="array", tickvals=TICK_SECONDS, ticktext=TICK_LABELS, tickangle=90,
               ticks="outside", ticklen=7, tickwidth=1.5, tickcolor=BLACK,
               tickfont=dict(family=FONT, size=16, weight="bold", color=BLACK),
               showline=True, linecolor=BLACK, linewidth=1.5, zeroline=False,
               showgrid=True, gridcolor=MAJ, gridwidth=1.3,
               minor=dict(tickmode="array",
                          tickvals=[s for s in range(0, T_END, 10) if s % 60 != 0],
                          ticks="outside", ticklen=4, tickwidth=1.2, tickcolor=BLACK,
                          showgrid=True, gridcolor=MIN, gridwidth=1),
               fixedrange=True),
    yaxis=dict(domain=[0, 1], range=[0, GRID_N], tickmode="linear", tick0=0, dtick=1,
               showgrid=True, gridcolor=MAJ, gridwidth=1.3, showticklabels=False, ticks="",
               zeroline=False, showline=False, fixedrange=True,
               minor=dict(dtick=0.2, showgrid=True, gridcolor=MIN, gridwidth=1)),
)

shapes = []
for key, a in AXES.items():
    v1, g1, v2, g2 = a["r"]
    tv = a["tv"]
    minor_vals = []
    if a["mstep"]:
        lo, hi = min(tv), max(tv)
        v = lo
        while v <= hi + 1e-9:
            if all(abs(v - t) > 1e-9 for t in tv):
                minor_vals.append(round(v, 6))
            v += a["mstep"]
    xpos = px_x(a["xp"]) if a["side"] == "left" else 1.0
    ax = dict(overlaying="y", anchor="free", side=a["side"], position=xpos,
              range=axis_range(v1, g1, v2, g2), tickmode="array", tickvals=tv,
              ticktext=a.get("tt", [str(t) for t in tv]),
              ticks="outside", ticklen=6, tickwidth=1.5, tickcolor=a["color"],
              tickfont=dict(tickfont_base, color=a["color"]),
              showgrid=False, zeroline=False, showline=False, fixedrange=True)
    if minor_vals:
        ax["minor"] = dict(tickmode="array", tickvals=minor_vals, ticks="outside", ticklen=3,
                           tickwidth=1, tickcolor=a["color"], showgrid=False)
    layout["yaxis" + key[1:]] = ax
    shapes.append(dict(type="line", xref="paper", yref=key, x0=xpos, x1=xpos,
                       y0=min(tv), y1=max(tv), line=dict(color=a["color"], width=1.5)))

shapes.append(dict(type="rect", xref="paper", yref="paper", x0=px_x(PLOT_L), x1=px_x(PLOT_R), y0=0, y1=1,
                   line=dict(color="#a8a8a8", width=1.3), layer="below"))
shapes.append(dict(type="rect", xref="paper", yref="paper", x0=px_x(7), x1=px_x(1925),
                   y0=px_y(1146), y1=px_y(7), line=dict(color=BLACK, width=2)))
layout["shapes"] = shapes

ann = []


def label(text, x, y, color=BLACK, size=16, angle=0, xanchor="center"):
    ann.append(dict(text=text, x=px_x(x), y=px_y(y), xref="paper", yref="paper", showarrow=False,
                    xanchor=xanchor, yanchor="middle", textangle=angle,
                    font=dict(family=FONT, size=size, color=color, weight="bold")))


label("Location, Date: Beaufort, NC, 02/13/22", 141, 68, xanchor="left")
label("NTSB No. ERA22LA120", 1797, 68, xanchor="right")
label("Elevator Pos (deg)", 85, 130, BLUE, 16, 90)
label("Rudder Pos (deg)", 84, 316, ORANGE, 16, 90)
label("Stab Trim Pos (deg)", 43, 454, RED, 16, 90)
label("AOA Vane (deg)", 83, 572, PURPLE, 16, 90)
label("AOA Target (deg)", 63, 571, GREEN, 16, 90)
label("Roll Rate (deg/s)", 84, 829, PURPLE, 16, 90)
label("Aileron Pos (deg)", 1854, 222, BLACK, 16, 90)
label("Rudder Trim Pos (deg)", 1854, 408, BLUE, 16, 90)
label("Pitch Rate (deg/s)", 1854, 735, GREEN, 16, 90)
label("Flap Pos (deg)", 1851, 897, RED, 16, 90)
label("Elevator Pos", 949, 126)
label("Aileron Pos", 956, 231)
label("Rudder Pos", 955, 316)
label("Rudder Trim Pos", 1035, 383)
label("Stab Trim Pos", 850, 442)
label("AOA Vane", 845, 556)
label("AOA Target", 842, 584)
label("Pitch Rate", 961, 746)
label("Roll Rate", 962, 847)
label("Flap Pos", 950, 903)
label("Master Caution-1", 846, 952)
label("Master Caution-2", 1000, 952)
label("Gear Handle Pos", 948, 989)
label("Master Caution-2", 237, 953, RED)
label("Master Caution-1", 444, 949, BLUE)
label("Gear Handle Pos", 1706, 990)
label("Time (EST)", 969, 1105)
layout["annotations"] = ann

fig.update_layout(**layout)
fig.write_html("out.html", config={"displayModeBar": False, "staticPlot": True},
               post_script="document.body.style.margin='0';document.body.style.overflow='hidden';")
